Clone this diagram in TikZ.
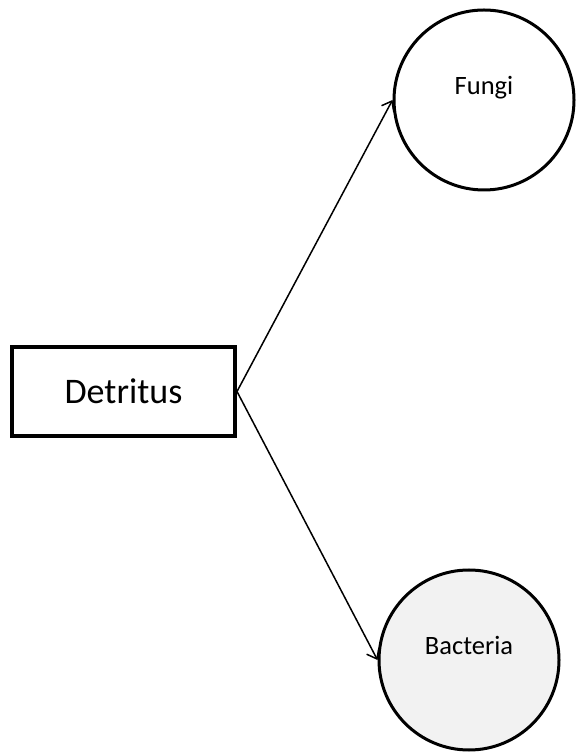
\documentclass[tikz,border=0pt]{standalone}
\usepackage{fontspec}
\setmainfont{Carlito}
\usepackage{tikz}
\usetikzlibrary{arrows.meta, positioning}

\tikzset{
    boxnode/.style={draw, line width=4pt, minimum width=223pt, minimum height=89pt, font=\fontsize{36}{40}\selectfont},
    orgnode/.style={draw, circle, line width=3pt, minimum size=180pt, text depth=30pt, font=\fontsize{26.5}{30}\selectfont},
    feed/.style={line width=1.5pt, -{Straight Barb[length=9pt,width=14pt]}}
}

\begin{document}
\begin{tikzpicture}[x=1pt,y=1pt]
                % Page frame
                \useasboundingbox (0,0) rectangle (576,752);
                
                % Source box
                \node[boxnode] (det) at (123.5,360.5) {Detritus};
                
                % Decomposers
                \node[orgnode] (fungi) at (484,652) {Fungi};
                \node[orgnode, fill=black!5] (bact) at (469,92) {Bacteria};
                
                % Arrows
                \draw[feed] (det.east) -- (fungi.west);
                \draw[feed] (det.east) -- (bact.west);
            \end{tikzpicture}
\end{document}
